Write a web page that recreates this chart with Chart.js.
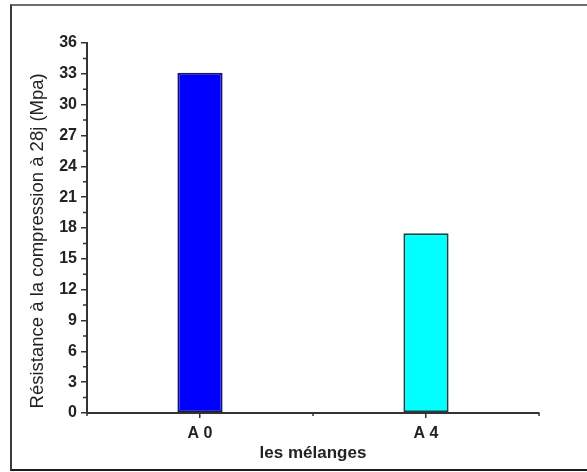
<!DOCTYPE html>
<html>
<head>
<meta charset="utf-8">
<script src="https://cdn.jsdelivr.net/npm/chart.js@4.4.0/dist/chart.umd.min.js"></script>
<style>
  body { margin: 0; background: #fff; }
  #wrap { position: relative; width: 587px; height: 472px; overflow: hidden; }
  #frame {
    position: absolute; left: 10px; top: 4px; width: 620px; height: 463px;
    border-left: 2px solid #3a3a3a; border-top: 2px solid #6e6e6e; border-bottom: 2px solid #1e1e1e;
  }
  canvas { position: absolute; left: 0; top: 0; }
</style>
</head>
<body>
<div id="wrap">
  <div id="frame"></div>
  <canvas id="chart" width="587" height="472"></canvas>
</div>
<script>
// data
const categories = ['A 0', 'A 4'];
const strength = [33.1, 17.5];
const barColors = ['#0000ff', '#00ffff'];
const barBorders = ['#14146a', '#0c4848'];
const yTicks = [0, 3, 6, 9, 12, 15, 18, 21, 24, 27, 30, 33, 36];

const FONT = 'Liberation Sans, Arial, sans-serif';
const AXIS = '#333';

// small minor ticks between the labelled ones
const minorTicks = {
  id: 'minorTicks',
  afterDraw(chart) {
    const { ctx, scales: { x, y } } = chart;
    ctx.save();
    ctx.strokeStyle = AXIS;
    ctx.lineWidth = 1.5;
    ctx.beginPath();
    for (let i = 0; i < yTicks.length - 1; i++) {
      const py = y.getPixelForValue((yTicks[i] + yTicks[i + 1]) / 2);
      ctx.moveTo(y.right - 4, py);
      ctx.lineTo(y.right, py);
    }
    for (let i = -1; i < categories.length; i++) {
      const px = x.getPixelForValue(i + 0.5);
      ctx.moveTo(px, x.top);
      ctx.lineTo(px, x.top + 3);
    }
    ctx.stroke();
    ctx.restore();
  }
};

new Chart(document.getElementById('chart'), {
  type: 'bar',
  data: {
    labels: categories,
    datasets: [{
      data: strength,
      backgroundColor: barColors,
      borderColor: barBorders,
      borderWidth: 2,
      borderSkipped: false,
      barPercentage: 0.2,
      categoryPercentage: 1
    }]
  },
  options: {
    responsive: false,
    animation: false,
    layout: { padding: { left: 0, top: 43, right: 48, bottom: 0 } },
    plugins: { legend: { display: false }, tooltip: { enabled: false } },
    scales: {
      x: {
        offset: true,
        afterFit: s => { s.height = 59; },
        grid: { drawOnChartArea: false, offset: false, tickLength: 5, color: AXIS, lineWidth: 1.5 },
        border: { color: AXIS, width: 2 },
        ticks: { color: '#222', padding: 6, font: { family: FONT, size: 16, weight: 'bold' } },
        title: {
          display: true, text: 'les mélanges', color: '#222',
          padding: { top: 2, bottom: 8 },
          font: { family: FONT, size: 17, weight: 'bold' }
        }
      },
      y: {
        min: 0, max: 36,
        afterFit: s => { s.width = 87; },
        afterBuildTicks: s => { s.ticks = yTicks.map(v => ({ value: v })); },
        grid: { drawOnChartArea: false, tickLength: 6, color: AXIS, lineWidth: 1.5 },
        border: { color: AXIS, width: 2 },
        ticks: { color: '#222', padding: 4, font: { family: FONT, size: 16, weight: 'bold' } },
        title: {
          display: true,
          // trailing no-break spaces push the text down a little, as in the original
          text: 'Résistance à la compression à 28j (Mpa)\u00a0\u00a0\u00a0\u00a0\u00a0',
          color: '#222',
          padding: { top: 27, bottom: 0 },
          font: { family: FONT, size: 18.5 }
        }
      }
    }
  },
  plugins: [minorTicks]
});
</script>
</body>
</html>
